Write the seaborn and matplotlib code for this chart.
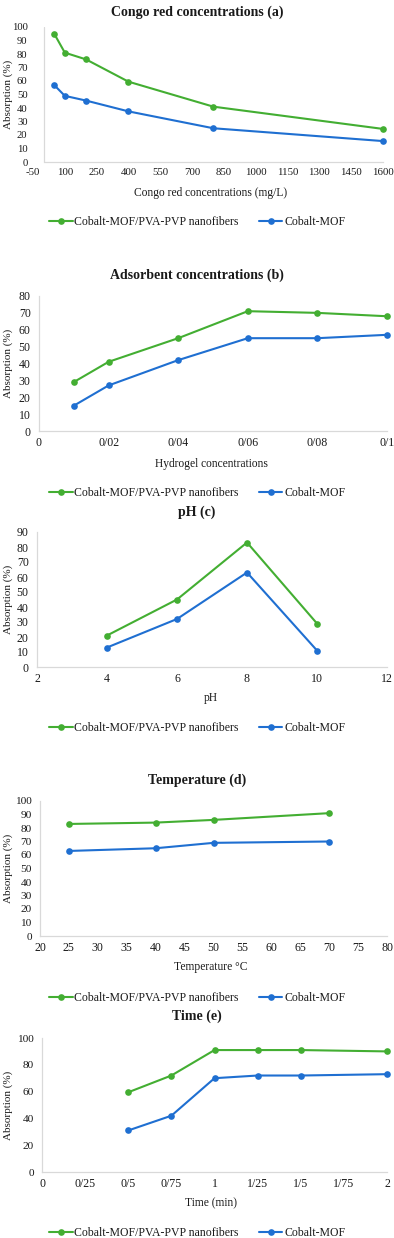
import numpy as np
import pandas as pd
import matplotlib
matplotlib.use("Agg")
import matplotlib.pyplot as plt
from matplotlib.lines import Line2D
import seaborn as sns

# ---------------- data ----------------
series_names = ["Cobalt-MOF/PVA-PVP nanofibers", "Cobalt-MOF"]

a_x = [50, 100, 200, 400, 800, 1600]
a_green = [95, 81, 76, 59.5, 41, 24.5]
a_blue = [57, 49, 45.5, 37.5, 25, 15.5]
a_xticks = [-50, 100, 250, 400, 550, 700, 850, 1000, 1150, 1300, 1450, 1600]
a_yticks = [0, 10, 20, 30, 40, 50, 60, 70, 80, 90, 100]

b_x = [0.01, 0.02, 0.04, 0.06, 0.08, 0.1]
b_green = [29, 41, 55, 71, 70, 68]
b_blue = [15, 27, 42, 55, 55, 57]
b_xticks = [0, 0.02, 0.04, 0.06, 0.08, 0.1]
b_xticklabels = ["0", "0/02", "0/04", "0/06", "0/08", "0/1"]
b_yticks = [0, 10, 20, 30, 40, 50, 60, 70, 80]

c_x = [4, 6, 8, 10]
c_green = [21, 45, 83, 29]
c_blue = [13, 32, 63, 11]
c_xticks = [2, 4, 6, 8, 10, 12]
c_yticks = [0, 10, 20, 30, 40, 50, 60, 70, 80, 90]

d_x = [25, 40, 50, 70]
d_green = [83, 84, 86, 91]
d_blue = [63, 65, 69, 70]
d_xticks = [20, 25, 30, 35, 40, 45, 50, 55, 60, 65, 70, 75, 80]
d_yticks = [0, 10, 20, 30, 40, 50, 60, 70, 80, 90, 100]

e_x = [0.5, 0.75, 1, 1.25, 1.5, 2]
e_green = [59.5, 72, 91, 91, 91, 90]
e_blue = [31, 42, 70, 72, 72, 73]
e_xticks = [0, 0.25, 0.5, 0.75, 1, 1.25, 1.5, 1.75, 2]
e_xticklabels = ["0", "0/25", "0/5", "0/75", "1", "1/25", "1/5", "1/75", "2"]
e_yticks = [0, 20, 40, 60, 80, 100]

titles = ["Congo red concentrations (a)", "Adsorbent concentrations (b)", "pH (c)",
          "Temperature (d)", "Time (e)"]
xlabels = ["Congo red concentrations (mg/L)", "Hydrogel concentrations", "pH",
           "Temperature \u00b0C", "Time (min)"]
ylabel = "Absorption (%)"

# ---------------- style ----------------
sns.set_theme(style="white")
plt.rcParams["font.family"] = ["Liberation Serif", "DejaVu Serif"]
plt.rcParams["axes.unicode_minus"] = False
GREEN = "#43AE32"
BLUE = "#1F6FD1"
SPINE = "#D9D9D9"
TXT = "#1a1a1a"
palette = {series_names[0]: GREEN, series_names[1]: BLUE}

W, H = 394, 1238
fig = plt.figure(figsize=(W / 100, H / 100), dpi=100)


def px_axes(left, right, top, bottom):
    return fig.add_axes([left / W, 1 - bottom / H, (right - left) / W, (bottom - top) / H])


def make_df(x, g, b):
    return pd.DataFrame({
        "x": list(x) + list(x),
        "y": list(g) + list(b),
        "series": [series_names[0]] * len(x) + [series_names[1]] * len(x),
    })


LAB_FS = 8.3
YLAB_FS = 8.0
TITLE_FS = 10.0
LEG_FS = 8.5
MS = 4.8
LW = 1.5

panels = [
    # x, green, blue, xticks, xticklabels, yticks, xlim, ylim, box(l,r,t,b), title_y, xlabel_y, legend_y, ypad, xtick_fs, ytick_fs
    (a_x, a_green, a_blue, a_xticks, None, a_yticks, (-50, 1600), (0, 100), (33, 383, 27, 162), 12, 193, 222, 4.0, 7.8, 7.7),
    (b_x, b_green, b_blue, b_xticks, b_xticklabels, b_yticks, (0, 0.1), (0, 80), (39, 387, 296, 431), 275, 464, 493, 6, 8.6, 8.5),
    (c_x, c_green, c_blue, c_xticks, None, c_yticks, (2, 12), (0, 90), (37, 387, 532, 667), 512, 698, 728, 6, 8.6, 8.5),
    (d_x, d_green, d_blue, d_xticks, None, d_yticks, (20, 80), (0, 100), (40, 387, 801, 936), 780, 967, 998, 6, 8.6, 8.2),
    (e_x, e_green, e_blue, e_xticks, e_xticklabels, e_yticks, (0, 2), (0, 100), (42, 387, 1038, 1172), 1016, 1203, 1233, 6, 8.6, 8.2),
]

for i, (x, g, b, xt, xtl, yt, xlim, ylim, box, ty, xly, ly, ypad, xfs, yfs) in enumerate(panels):
    l, r, t, bt = box
    ax = px_axes(l, r, t, bt)
    df = make_df(x, g, b)
    sns.lineplot(data=df, x="x", y="y", hue="series", palette=palette, marker="o",
                 markersize=MS, markeredgewidth=0, linewidth=LW, legend=False, ax=ax,
                 clip_on=False)
    ax.set_xlim(*xlim)
    ax.set_ylim(*ylim)
    ax.set_xticks(xt)
    if xtl is not None:
        ax.set_xticklabels(xtl)
    ax.set_yticks(yt)
    ax.set_xlabel("")
    ax.set_ylabel("")
    for s in ["top", "right"]:
        ax.spines[s].set_visible(False)
    ax.spines["bottom"].set_color(SPINE)
    ax.spines["bottom"].set_linewidth(0.9)
    if i == 0:
        ax.spines["left"].set_visible(False)
        ax.spines["bottom"].set_bounds(0, 1600)
        ax.axvline(0, color=SPINE, linewidth=0.9, zorder=0)
    else:
        ax.spines["left"].set_color(SPINE)
        ax.spines["left"].set_linewidth(0.9)
    ax.tick_params(axis="both", length=0, labelcolor=TXT)
    ax.tick_params(axis="x", pad=4, labelsize=xfs)
    ax.tick_params(axis="y", pad=ypad, labelsize=yfs)
    ax.set_facecolor("none")

    # title, x label, y label
    fig.text(197 / W, 1 - ty / H, titles[i], ha="center", va="center",
             fontsize=TITLE_FS, fontweight="bold", color=TXT)
    fig.text(211 / W, 1 - xly / H, xlabels[i], ha="center", va="center",
             fontsize=LAB_FS, color=TXT)
    fig.text(8 / W, 1 - (t + bt) / 2 / H, ylabel, ha="center", va="center",
             rotation=90, fontsize=YLAB_FS, color=TXT)

    # legend
    handles = [Line2D([0], [0], color=c, marker="o", markersize=MS, markeredgewidth=0,
                      linewidth=LW) for c in (GREEN, BLUE)]
    fig.legend(handles, series_names, loc="center left",
               bbox_to_anchor=(49 / W, 1 - ly / H), ncol=2, frameon=False,
               fontsize=LEG_FS, handlelength=2.0, handletextpad=0.15,
               columnspacing=1.7, borderaxespad=0, borderpad=0, labelcolor=TXT)

fig.savefig("out.png", dpi=100, facecolor="white")
